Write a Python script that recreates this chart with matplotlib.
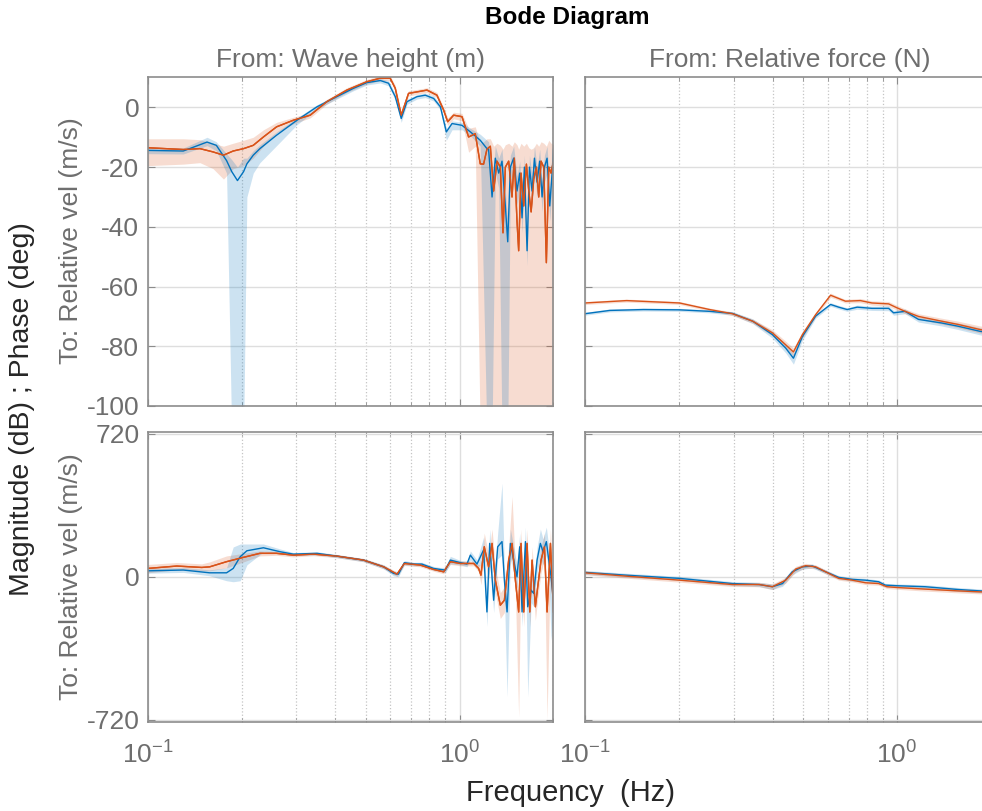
import matplotlib
matplotlib.use("Agg")
import matplotlib.pyplot as plt

plt.rcParams['font.family'] = ['Liberation Sans', 'DejaVu Sans']
plt.rcParams['mathtext.fontset'] = 'custom'
plt.rcParams['mathtext.rm'] = 'Liberation Sans'

BLUE = '#0072BD'
ORANGE = '#D95319'
GREY_TXT = '#6e6e6e'
GREY_AX = '#8c8c8c'

# ---- From: Wave height -> To: Relative vel, magnitude (dB) ----
wave_mag_f_b = [0.100, 0.130, 0.155, 0.166, 0.179, 0.186, 0.194, 0.203, 0.208, 0.218,
                0.229, 0.259, 0.301, 0.349, 0.404, 0.457, 0.504, 0.557, 0.592, 0.622,
                0.650, 0.678, 0.730, 0.776, 0.826, 0.868, 0.907, 0.946, 1.018, 1.083,
                1.165, 1.224, 1.239, 1.271, 1.302, 1.335, 1.368, 1.402, 1.427, 1.455,
                1.491, 1.528, 1.559, 1.586, 1.614, 1.646, 1.675, 1.708, 1.738, 1.772,
                1.807, 1.839, 1.871, 1.908, 1.946, 1.980, 2.000]
wave_mag_b = [-14.4, -14.6, -11.6, -12.7, -17.8, -21.5, -24.5, -21.5, -18.9, -16.0,
              -13.8, -9.3, -4.3, 0.2, 3.6, 6.4, 8.3, 9.0, 8.1, 3.6,
              -3.7, 1.9, 3.6, 4.1, 3.0, 0.2, -8.2, -5.4, -6.0, -8.2,
              -11.0, -13.8, -14.0, -30.0, -17.0, -22.0, -18.0, -33.0, -45.0, -20.0,
              -17.0, -28.0, -22.0, -37.0, -20.0, -48.0, -20.0, -28.0, -17.0, -25.0,
              -18.0, -30.0, -20.0, -17.0, -33.0, -22.0, -14.0]
wave_mag_b_lo = [-15.5, -15.6, -12.8, -14.5, -22.0, -110, -110, -110, -30.0, -22.0,
                 -18.5, -12.8, -5.8, -0.6, 2.8, 5.6, 7.5, 8.2, 7.2, 2.5,
                 -5.0, 1.0, 2.8, 3.3, 2.1, -0.8, -11.0, -7.5, -7.5, -9.5,
                 -13.0, -110, -110, -110, -22.0, -27.0, -110, -110, -110, -25.0,
                 -22.0, -33.0, -27.0, -42.0, -25.0, -53.0, -25.0, -33.0, -22.0, -30.0,
                 -23.0, -35.0, -25.0, -22.0, -38.0, -27.0, -19.0]
wave_mag_b_hi = [-13.3, -13.6, -10.0, -11.5, -15.5, -17.5, -20.0, -17.0, -17.0, -14.5,
                 -12.5, -8.2, -3.5, 0.9, 4.3, 7.1, 9.0, 9.7, 8.9, 4.6,
                 -2.5, 2.7, 4.3, 4.8, 3.8, 1.1, -7.0, -4.5, -5.0, -7.0,
                 -9.0, -11.0, -11.5, -25.0, -13.0, -17.0, -14.0, -28.0, -38.0, -16.0,
                 -13.0, -23.0, -18.0, -31.0, -16.0, -42.0, -16.0, -23.0, -13.0, -20.0,
                 -14.0, -25.0, -16.0, -13.0, -28.0, -18.0, -11.0]

wave_mag_f_o = [0.100, 0.130, 0.147, 0.162, 0.175, 0.188, 0.203, 0.218, 0.235, 0.259,
                0.293, 0.332, 0.375, 0.435, 0.504, 0.557, 0.599, 0.622, 0.650, 0.686,
                0.739, 0.786, 0.846, 0.889, 0.916, 0.957, 1.018, 1.069, 1.123, 1.165,
                1.194, 1.224, 1.255, 1.286, 1.318, 1.351, 1.378, 1.402, 1.437, 1.473,
                1.498, 1.528, 1.547, 1.574, 1.606, 1.638, 1.667, 1.696, 1.729, 1.763,
                1.794, 1.825, 1.862, 1.898, 1.932, 1.965, 2.000]
wave_mag_o = [-13.5, -14.1, -13.8, -14.9, -16.0, -14.6, -13.8, -12.7, -9.9, -6.5,
              -4.3, -2.6, 1.9, 5.8, 8.6, 9.8, 9.8, 6.4, -2.6, 4.7,
              5.3, 5.8, 4.1, -0.9, -4.8, -2.6, -3.1, -9.9, -8.8, -18.9,
              -19.0, -14.0, -13.0, -28.0, -18.0, -20.0, -42.0, -20.0, -18.0, -30.0,
              -17.0, -38.0, -48.0, -22.0, -33.0, -19.0, -28.0, -35.0, -24.0, -20.0,
              -30.0, -18.0, -20.0, -52.0, -20.0, -22.0, -18.0]
wave_mag_o_lo = [-19.5, -19.0, -18.5, -20.5, -24.0, -20.5, -19.5, -17.0, -13.0, -8.5,
                 -5.5, -3.5, 1.1, 5.0, 7.8, 9.0, 9.0, 5.4, -3.8, 3.8,
                 4.5, 5.0, 3.2, -2.0, -6.0, -3.8, -4.5, -15.0, -13.0, -110,
                 -110, -110, -110, -110, -110, -110, -110, -110, -110, -110,
                 -110, -110, -110, -110, -110, -110, -110, -110, -110, -110,
                 -110, -110, -110, -110, -110, -110, -110]
wave_mag_o_hi = [-10.5, -10.5, -10.8, -12.0, -13.0, -12.0, -11.0, -10.0, -7.5, -5.0,
                 -3.3, -1.8, 2.7, 6.6, 9.4, 10.6, 10.6, 7.4, -1.5, 5.6,
                 6.1, 6.6, 5.0, 0.0, -3.5, -1.6, -2.0, -7.0, -6.5, -12.0,
                 -11.5, -10.5, -10.5, -13.0, -12.0, -12.7, -14.0, -12.5, -12.0, -13.0,
                 -11.5, -12.5, -14.0, -12.0, -13.0, -12.0, -13.5, -14.0, -13.5, -12.0,
                 -13.0, -11.5, -12.0, -13.0, -11.0, -12.0, -12.5]

# ---- From: Relative force -> To: Relative vel, magnitude (dB) ----
force_mag_f_b = [0.100, 0.120, 0.154, 0.201, 0.251, 0.297, 0.345, 0.399, 0.440, 0.466,
                 0.498, 0.549, 0.613, 0.651, 0.693, 0.746, 0.832, 0.941, 0.976, 1.063,
                 1.173, 1.392, 1.573, 1.849, 2.000]
force_mag_b = [-69.1, -68.0, -67.7, -67.8, -68.3, -69.0, -71.6, -76.1, -80.6, -84.0,
               -76.7, -69.9, -66.0, -66.9, -67.7, -66.9, -67.3, -67.3, -68.8, -68.3,
               -71.0, -72.2, -73.3, -75.0, -75.5]
force_mag_b_lo = [-69.6, -68.5, -68.2, -68.3, -68.8, -69.6, -72.4, -77.3, -82.2, -86.0,
                  -78.0, -70.6, -66.6, -67.5, -68.3, -67.6, -68.0, -68.1, -69.6, -69.1,
                  -71.9, -73.2, -74.4, -76.2, -76.8]
force_mag_b_hi = [-68.6, -67.5, -67.2, -67.3, -67.8, -68.4, -70.8, -75.0, -79.2, -82.4,
                  -75.4, -69.2, -65.4, -66.3, -67.1, -66.2, -66.6, -66.5, -68.0, -67.5,
                  -70.1, -71.2, -72.2, -73.8, -74.2]

force_mag_f_o = [0.100, 0.136, 0.201, 0.251, 0.297, 0.345, 0.399, 0.440, 0.466, 0.498,
                 0.549, 0.613, 0.651, 0.684, 0.764, 0.832, 0.941, 1.000, 1.063, 1.173,
                 1.392, 1.573, 1.849, 2.000]
force_mag_o = [-65.5, -64.7, -65.5, -67.7, -69.1, -71.6, -75.5, -79.5, -81.9, -76.1,
               -69.4, -62.9, -64.0, -64.9, -64.7, -65.5, -65.8, -67.1, -68.3, -70.0,
               -71.6, -72.7, -74.4, -75.0]
force_mag_o_lo = [-66.0, -65.2, -66.0, -68.2, -69.7, -72.3, -76.5, -80.7, -83.2, -77.2,
                  -70.1, -63.6, -64.6, -65.5, -65.4, -66.2, -66.6, -67.9, -69.1, -70.9,
                  -72.6, -73.8, -75.6, -76.3]
force_mag_o_hi = [-65.0, -64.2, -65.0, -67.2, -68.5, -70.9, -74.5, -78.3, -80.6, -75.0,
                  -68.7, -62.2, -63.4, -64.3, -64.0, -64.8, -65.0, -66.3, -67.5, -69.1,
                  -70.6, -71.6, -73.2, -73.7]

# ---- From: Wave height -> To: Relative vel, phase (deg) ----
wave_ph_f_b = [0.100, 0.130, 0.158, 0.179, 0.188, 0.198, 0.208, 0.235, 0.266, 0.293,
               0.349, 0.404, 0.492, 0.571, 0.614, 0.637, 0.665, 0.712, 0.757, 0.826,
               0.868, 0.900, 0.934, 1.006, 1.056, 1.083, 1.137, 1.194, 1.224, 1.249,
               1.286, 1.325, 1.368, 1.392, 1.420, 1.455, 1.491, 1.528, 1.559, 1.586,
               1.626, 1.654, 1.696, 1.729, 1.772, 1.816, 1.852, 1.898, 1.932, 1.965,
               2.000]
wave_ph_b = [30, 34, 20, 20, 42, 101, 131, 146, 126, 114,
             118, 104, 84, 50, 17, 13, 71, 64, 64, 42,
             37, 34, 84, 71, 64, 109, 64, 135, -177, 168,
             -118, 151, 177, -17, -177, 168, 84, 0, 151, -177,
             177, -151, -67, -84, 84, 168, 126, 177, 84, 0,
             -118]
wave_ph_b_lo = [18, 22, 5, -20, -25, -20, 60, 125, 115, 106,
                110, 96, 76, 40, 5, 0, 60, 55, 55, 32,
                27, 20, 65, 60, 50, 85, 45, 75, -250, 100,
                -180, 90, 110, -80, -605, 100, 20, -60, 90, -250,
                110, -605, -130, -150, 20, 100, 60, 110, 20, -320,
                -180]
wave_ph_b_hi = [42, 46, 35, 45, 150, 165, 165, 165, 140, 122,
                126, 112, 92, 60, 29, 26, 82, 73, 73, 52,
                47, 48, 103, 82, 78, 130, 85, 200, -110, 240,
                -50, 220, 471, 50, -110, 240, 150, 60, 220, -110,
                250, -90, 0, -20, 150, 240, 190, 250, 150, 60,
                -50]

wave_ph_f_o = [0.100, 0.124, 0.149, 0.158, 0.179, 0.203, 0.229, 0.259, 0.293, 0.340,
               0.404, 0.492, 0.571, 0.630, 0.665, 0.748, 0.826, 0.889, 0.934, 1.006,
               1.110, 1.151, 1.171, 1.200, 1.239, 1.271, 1.302, 1.351, 1.392, 1.437,
               1.473, 1.510, 1.547, 1.574, 1.606, 1.646, 1.679, 1.708, 1.750, 1.781,
               1.825, 1.871, 1.908, 1.956, 2.000]
wave_ph_o = [42, 54, 47, 50, 76, 98, 118, 118, 109, 114,
             104, 84, 50, 13, 67, 59, 37, 25, 76, 67,
             67, 42, 8, 151, 50, 168, -17, -143, -118, 84,
             168, -17, -177, 168, -177, 168, -177, 84, -151, -50,
             84, 151, -177, 168, -177]
wave_ph_o_lo = [20, 35, 30, 30, 45, 75, 105, 108, 100, 106,
                96, 76, 40, 2, 57, 50, 28, 15, 62, 55,
                55, 25, -40, 90, -10, 100, -80, -210, -180, 20,
                100, -80, -706, 100, -250, 100, -250, 20, -220, -110,
                20, 90, -720, 100, -250]
wave_ph_o_hi = [62, 72, 65, 75, 105, 118, 130, 128, 118, 122,
                112, 92, 60, 24, 77, 68, 46, 35, 90, 79,
                79, 60, 60, 220, 110, 240, 50, -80, -50, 150,
                404, 50, -110, 240, -110, 240, -110, 150, -90, 10,
                150, 220, -110, 240, -110]

# ---- From: Relative force -> To: Relative vel, phase (deg) ----
force_ph_f_b = [0.100, 0.136, 0.201, 0.297, 0.362, 0.399, 0.430, 0.462, 0.498, 0.536,
                0.591, 0.651, 0.719, 0.792, 0.874, 0.918, 1.000, 1.231, 1.573, 1.849,
                2.000]
force_ph_b = [22, 8, -8, -34, -39, -50, -34, 25, 50, 54,
              25, -3, -13, -17, -25, -42, -45, -50, -64, -71,
              -73]
force_ph_f_o = [0.100, 0.136, 0.201, 0.297, 0.362, 0.399, 0.440, 0.474, 0.510, 0.549,
                0.605, 0.651, 0.719, 0.792, 0.874, 0.929, 1.000, 1.231, 1.573, 1.849,
                2.000]
force_ph_o = [20, 3, -17, -39, -39, -50, -17, 39, 56, 50,
              17, -8, -17, -30, -34, -50, -54, -62, -71, -76,
              -77]
force_ph_b_lo = [12, -2, -18, -44, -50, -64, -48, 10, 38, 44,
                 15, -12, -22, -26, -34, -51, -54, -60, -74, -81,
                 -83]
force_ph_b_hi = [32, 18, 2, -24, -28, -36, -20, 40, 62, 64,
                 35, 6, -4, -8, -16, -33, -36, -40, -54, -61,
                 -63]
force_ph_o_lo = [10, -7, -27, -49, -50, -64, -32, 25, 44, 40,
                 7, -17, -26, -39, -43, -59, -63, -72, -81, -86,
                 -87]
force_ph_o_hi = [30, 13, -7, -29, -28, -36, -2, 53, 68, 60,
                 27, 1, -8, -21, -25, -41, -45, -52, -61, -66,
                 -67]

FREQ_LIM = (0.1, 2.0)
MINOR_X = [0.2, 0.3, 0.4, 0.5, 0.6, 0.7, 0.8, 0.9, 2.0]


def draw_trace(ax, f, y, lo, hi, color):
    ax.fill_between(f, lo, hi, color=color, alpha=0.2, lw=0)
    ax.plot(f, y, color=color, lw=1.0)


def style_axes(ax, yticks, ylim, show_y, show_x):
    ax.set_xscale('log')
    ax.set_xlim(*FREQ_LIM)
    ax.set_ylim(*ylim)
    ax.set_xticks([0.1, 1.0])
    ax.set_xticks(MINOR_X, minor=True)
    ax.set_yticks(yticks)
    if show_x:
        ax.set_xticklabels([r'$\mathregular{10^{-1}}$', r'$\mathregular{10^{0}}$'])
    else:
        ax.set_xticklabels([])
    ax.set_xticklabels([], minor=True)
    if show_y:
        ax.set_yticklabels([str(v) for v in yticks])
    else:
        ax.set_yticklabels([])
    ax.grid(which='major', axis='both', color='#dedede', ls='-', lw=1.0)
    ax.grid(which='minor', axis='x', color='#c4c4c4', ls=':', lw=0.9)
    ax.set_axisbelow(True)
    for s in ax.spines.values():
        s.set_color(GREY_AX)
        s.set_linewidth(1.2)
    ax.tick_params(which='both', direction='in', top=True, right=True,
                   color=GREY_AX, labelcolor=GREY_TXT, labelsize=19)
    ax.tick_params(which='major', length=5)
    ax.tick_params(which='minor', length=3)
    ax.tick_params(axis='x', pad=14)
    ax.tick_params(axis='y', pad=6)


fig = plt.figure(figsize=(9.82, 8.11), dpi=100)

ax_wm = fig.add_axes([0.1504, 0.4994, 0.4132, 0.4057])
ax_fm = fig.add_axes([0.5957, 0.4994, 0.4132, 0.4057])
ax_wp = fig.add_axes([0.1504, 0.1097, 0.4132, 0.3582])
ax_fp = fig.add_axes([0.5957, 0.1097, 0.4132, 0.3582])

draw_trace(ax_wm, wave_mag_f_o, wave_mag_o, wave_mag_o_lo, wave_mag_o_hi, ORANGE)
draw_trace(ax_wm, wave_mag_f_b, wave_mag_b, wave_mag_b_lo, wave_mag_b_hi, BLUE)
ax_wm.plot(wave_mag_f_o, wave_mag_o, color=ORANGE, lw=1.0)

draw_trace(ax_fm, force_mag_f_b, force_mag_b, force_mag_b_lo, force_mag_b_hi, BLUE)
draw_trace(ax_fm, force_mag_f_o, force_mag_o, force_mag_o_lo, force_mag_o_hi, ORANGE)

draw_trace(ax_wp, wave_ph_f_o, wave_ph_o, wave_ph_o_lo, wave_ph_o_hi, ORANGE)
draw_trace(ax_wp, wave_ph_f_b, wave_ph_b, wave_ph_b_lo, wave_ph_b_hi, BLUE)
ax_wp.plot(wave_ph_f_o, wave_ph_o, color=ORANGE, lw=1.0)

draw_trace(ax_fp, force_ph_f_b, force_ph_b, force_ph_b_lo, force_ph_b_hi, BLUE)
draw_trace(ax_fp, force_ph_f_o, force_ph_o, force_ph_o_lo, force_ph_o_hi, ORANGE)

mag_ticks = [-100, -80, -60, -40, -20, 0]
ph_ticks = [-720, 0, 720]
style_axes(ax_wm, mag_ticks, (-100, 10.2), True, False)
style_axes(ax_fm, mag_ticks, (-100, 10.2), False, False)
style_axes(ax_wp, ph_ticks, (-731, 731), True, True)
style_axes(ax_fp, ph_ticks, (-731, 731), False, True)

fig.text(0.578, 0.978, 'Bode Diagram', ha='center', va='center',
         fontsize=17.5, fontweight='bold', color='black')
fig.text(0.357, 0.926, 'From: Wave height (m)', ha='center', va='center',
         fontsize=19, color=GREY_TXT)
fig.text(0.804, 0.926, 'From: Relative force (N)', ha='center', va='center',
         fontsize=19, color=GREY_TXT)
fig.text(0.072, 0.703, 'To: Relative vel (m/s)', ha='center', va='center',
         rotation=90, fontsize=19, color=GREY_TXT)
fig.text(0.072, 0.289, 'To: Relative vel (m/s)', ha='center', va='center',
         rotation=90, fontsize=19, color=GREY_TXT)
fig.text(0.022, 0.495, 'Magnitude (dB) ; Phase (deg)', ha='center', va='center',
         rotation=90, fontsize=20.5, color='#262626')
fig.text(0.581, 0.022, 'Frequency  (Hz)', ha='center', va='center',
         fontsize=21, color='#262626')

fig.savefig('out.png', dpi=100)
